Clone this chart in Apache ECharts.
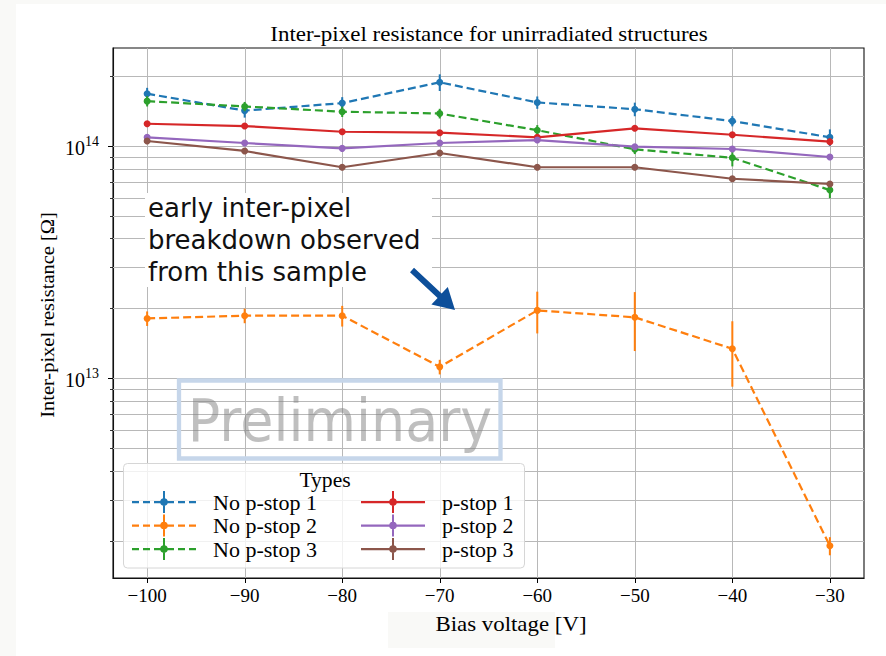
<!DOCTYPE html>
<html><head><meta charset="utf-8">
<script src="https://cdn.jsdelivr.net/npm/echarts@6/dist/echarts.min.js"></script>
<style>html,body{margin:0;padding:0;background:#fff}#c{width:886px;height:656px}</style>
</head><body><div id="c"></div>
<script>
// ---- data ----
const voltages = [-100, -90, -80, -70, -60, -50, -40, -30];
const seriesNames = ['No p-stop 1', 'No p-stop 2', 'No p-stop 3', 'p-stop 1', 'p-stop 2', 'p-stop 3'];
const noPstop1    = [1.68e14, 1.42e14, 1.53e14, 1.88e14, 1.54e14, 1.44e14, 1.28e14, 1.09e14];
const noPstop1Err = [1.0e13, 0.95e13, 0.93e13, 1.55e13, 0.94e13, 0.97e13, 0.65e13, 0.89e13];
const noPstop2    = [1.81e13, 1.86e13, 1.86e13, 1.12e13, 1.96e13, 1.83e13, 1.34e13, 1.90e12];
const noPstop2Err = [0.13e13, 0.134e13, 0.19e13, 0.081e13, 0.40e13, 0.52e13, 0.42e13, 0.17e12];
const noPstop3    = [1.56e14, 1.48e14, 1.405e14, 1.38e14, 1.17e14, 0.968e14, 0.89e14, 0.646e14];
const noPstop3Err = [0.8e13, 0.68e13, 0.72e13, 0.66e13, 0.6e13, 0.45e13, 0.73e13, 0.5e13];
const pstop1      = [1.247e14, 1.219e14, 1.152e14, 1.141e14, 1.09e14, 1.192e14, 1.118e14, 1.044e14];
const pstop1Err   = [0.2e13, 0.2e13, 0.2e13, 0.2e13, 0.2e13, 0.2e13, 0.2e13, 0.35e13];
const pstop2      = [1.09e14, 1.03e14, 0.977e14, 1.03e14, 1.061e14, 0.993e14, 0.971e14, 0.897e14];
const pstop2Err   = [0.15e13, 0.15e13, 0.15e13, 0.15e13, 0.15e13, 0.15e13, 0.15e13, 0.15e13];
const pstop3      = [1.051e14, 0.952e14, 0.81e14, 0.933e14, 0.81e14, 0.81e14, 0.723e14, 0.686e14];
const pstop3Err   = [0.15e13, 0.15e13, 0.15e13, 0.15e13, 0.15e13, 0.15e13, 0.15e13, 0.15e13];

const xTicks = [-100, -90, -80, -70, -60, -50, -40, -30];
const yMajorTicks = [1e13, 1e14];
const yGridValues = [2e12, 3e12, 4e12, 5e12, 6e12, 7e12, 8e12, 9e12, 1e13,
                     2e13, 3e13, 4e13, 5e13, 6e13, 7e13, 8e13, 9e13, 1e14, 2e14];
const xMin = -103.5, xMax = -26.5;
const yMin = 1.381e12, yMax = 2.642e14;

const colors = ['#1f77b4', '#ff7f0e', '#2ca02c', '#d62728', '#9467bd', '#8c564b'];
const values = [noPstop1, noPstop2, noPstop3, pstop1, pstop2, pstop3];
const errors = [noPstop1Err, noPstop2Err, noPstop3Err, pstop1Err, pstop2Err, pstop3Err];
const dashed = [true, true, true, false, false, false];

// ---- legend icons ----
const dashIcon = 'path://M0 10h7v2.2h-7Z M11 10h7v2.2h-7Z M22 10h7v2.2h-7Z M35 10h7v2.2h-7Z M46 10h7v2.2h-7Z M57 10h7v2.2h-7Z M31 0h2v22h-2Z M28.2 11a3.8 3.8 0 1 1 7.6 0a3.8 3.8 0 1 1 -7.6 0Z';
const solidIcon = 'path://M0 10h64v2.2h-64Z M31 0h2v22h-2Z M28.2 11a3.8 3.8 0 1 1 7.6 0a3.8 3.8 0 1 1 -7.6 0Z';

const chart = echarts.init(document.getElementById('c'), null, {renderer: 'svg'});

const serif = 'Liberation Serif';
const series = [];

// grid lines (horizontal) + y ticks
series.push({
  type: 'custom', name: 'ygrid', silent: true, z: 1, clip: false,
  encode: {x: 0, y: 1},
  data: yGridValues.map(v => [xTicks[0], v]),
  renderItem: (params, api) => {
    const cs = params.coordSys;
    const v = api.value(1);
    const y = Math.round(api.coord([api.value(0), v])[1]) + 0.5;
    const major = yMajorTicks.indexOf(v) >= 0;
    return {type: 'group', children: [
      {type: 'line', shape: {x1: cs.x, y1: y, x2: cs.x + cs.width, y2: y}, style: {stroke: '#b8b8b8', lineWidth: 1}},
      {type: 'line', shape: {x1: cs.x - (major ? 5 : 3), y1: y, x2: cs.x, y2: y}, style: {stroke: '#000', lineWidth: major ? 1 : 0.8}}
    ]};
  }
});
// grid lines (vertical) + x ticks
series.push({
  type: 'custom', name: 'xgrid', silent: true, z: 1, clip: false,
  encode: {x: 0, y: 1},
  data: xTicks.map(v => [v, yMajorTicks[0]]),
  renderItem: (params, api) => {
    const cs = params.coordSys;
    const x = Math.round(api.coord([api.value(0), api.value(1)])[0]) + 0.5;
    const b = cs.y + cs.height;
    return {type: 'group', children: [
      {type: 'line', shape: {x1: x, y1: cs.y, x2: x, y2: b}, style: {stroke: '#b8b8b8', lineWidth: 1}},
      {type: 'line', shape: {x1: x, y1: b, x2: x, y2: b + 5}, style: {stroke: '#000', lineWidth: 1}}
    ]};
  }
});

seriesNames.forEach((name, i) => {
  const c = colors[i];
  series.push({
    type: 'custom', name: name + ' err', silent: true, z: 2 + i * 0.1,
    encode: {x: 0, y: 1},
    data: voltages.map((x, k) => [x, values[i][k], errors[i][k]]),
    renderItem: (params, api) => {
      const x = api.value(0), v = api.value(1), e = api.value(2);
      const p1 = api.coord([x, v - e]), p2 = api.coord([x, v + e]);
      return {type: 'line', shape: {x1: p1[0], y1: p1[1], x2: p2[0], y2: p2[1]}, style: {stroke: c, lineWidth: 2}};
    }
  });
  series.push({
    type: 'line', name: name, z: 2.05 + i * 0.1,
    data: voltages.map((x, k) => [x, values[i][k]]),
    symbol: 'circle', symbolSize: 7, showSymbol: true,
    color: c,
    itemStyle: {color: c, borderWidth: 0},
    lineStyle: {color: c, width: 2.2, type: dashed[i] ? [8, 4] : 'solid'},
    emphasis: {disabled: true}
  });
});

const legendCommon = {
  orient: 'vertical', top: 491, itemWidth: 64, itemHeight: 22, itemGap: 1.5, padding: 0, z: 6,
  selectedMode: false,
  itemStyle: {borderWidth: 0},
  textStyle: {fontFamily: serif, fontSize: 22, color: '#000', padding: [0, 0, 0, 12]}
};

const option = {
  animation: false,
  backgroundColor: '#fff',
  grid: {left: 113, right: 22, top: 48, bottom: 78, show: true, backgroundColor: '#fff', borderColor: '#111', borderWidth: 1.1},
  xAxis: {
    type: 'value', min: xMin, max: xMax,
    axisLine: {show: true, lineStyle: {color: '#111', width: 1.1}},
    axisTick: {show: false}, splitLine: {show: false},
    axisLabel: {
      customValues: xTicks, margin: 8,
      fontFamily: serif, fontSize: 19, color: '#000',
      formatter: v => (v % 10 === 0) ? ((v < 0 ? '\u2212' : '') + Math.abs(v)) : ''
    }
  },
  yAxis: {
    type: 'log', logBase: 10, min: yMin, max: yMax,
    axisLine: {show: true, lineStyle: {color: '#111', width: 1.1}},
    axisTick: {show: false}, splitLine: {show: false}, minorSplitLine: {show: false},
    axisLabel: {
      customValues: yMajorTicks, margin: 14,
      formatter: v => {
        const l = Math.log10(v), r = Math.round(l);
        return Math.abs(l - r) < 1e-6 ? '{b|10}{s|' + r + '}' : '';
      },
      rich: {
        b: {fontFamily: serif, fontSize: 20, color: '#000', lineHeight: 24, verticalAlign: 'bottom'},
        s: {fontFamily: serif, fontSize: 14, color: '#000', lineHeight: 24, verticalAlign: 'top'}
      }
    }
  },
  legend: [
    Object.assign({left: 132, data: seriesNames.slice(0, 3).map(n => ({name: n, icon: dashIcon}))}, legendCommon),
    Object.assign({left: 361, data: seriesNames.slice(3).map(n => ({name: n, icon: solidIcon}))}, legendCommon)
  ],
  graphic: [
    {type: 'rect', z: 100, shape: {x: 0, y: 0, width: 16, height: 656}, style: {fill: '#f9f9f7'}},
    {type: 'rect', z: 100, shape: {x: 0, y: 0, width: 886, height: 4}, style: {fill: '#f9f9f7'}},
    {type: 'rect', z: 0, shape: {x: 388, y: 612, width: 167, height: 36}, style: {fill: '#f9f9f7'}},
    {type: 'text', z: 10, x: 489, y: 35, scaleX: 1.15, style: {text: 'Inter-pixel resistance for unirradiated structures', font: '20px "Liberation Serif"', fill: '#000', align: 'center', verticalAlign: 'middle'}},
    {type: 'text', z: 10, x: 47, y: 315, rotation: Math.PI / 2, scaleX: 1.05, style: {text: 'Inter-pixel resistance [\u03A9]', font: '19.5px "Liberation Serif"', fill: '#000', align: 'center', verticalAlign: 'middle'}},
    {type: 'text', z: 10, x: 511, y: 624, scaleX: 1.04, style: {text: 'Bias voltage [V]', font: '22px "Liberation Serif"', fill: '#000', align: 'center', verticalAlign: 'middle'}},
    // annotation
    {type: 'rect', z: 5, shape: {x: 145, y: 193, width: 287, height: 94}, style: {fill: '#fff'}},
    {type: 'text', z: 6, x: 148, y: 192, style: {text: 'early inter-pixel\nbreakdown observed\nfrom this sample', font: '26px "DejaVu Sans"', fill: '#111', lineHeight: 32, align: 'left', verticalAlign: 'top'}},
    {type: 'polygon', z: 6, shape: {points: [[410, 272.2], [437.6, 297.9], [431.4, 304.5], [455, 310], [447.8, 286.9], [441.6, 293.5], [414, 267.8]]}, style: {fill: '#0d4f9a'}},
    // watermark
    {type: 'rect', z: 3, shape: {x: 179, y: 380.5, width: 321.5, height: 78}, style: {fill: 'none', stroke: '#c6d6ea', lineWidth: 4.3}},
    {type: 'text', z: 3, x: 340, y: 421, scaleX: 0.93, style: {text: 'Preliminary', font: '58px "DejaVu Sans"', fill: 'rgba(128,128,128,0.5)', align: 'center', verticalAlign: 'middle'}},
    // legend frame
    {type: 'rect', z: 5, shape: {x: 123.5, y: 463.5, width: 401, height: 104.5, r: 4}, style: {fill: 'rgba(255,255,255,0.8)', stroke: '#d6d6d6', lineWidth: 1}},
    {type: 'text', z: 6, x: 325, y: 480, scaleX: 1.08, style: {text: 'Types', font: '20px "Liberation Serif"', fill: '#000', align: 'center', verticalAlign: 'middle'}}
  ],
  series: series
};
chart.setOption(option);
</script>
</body></html>
